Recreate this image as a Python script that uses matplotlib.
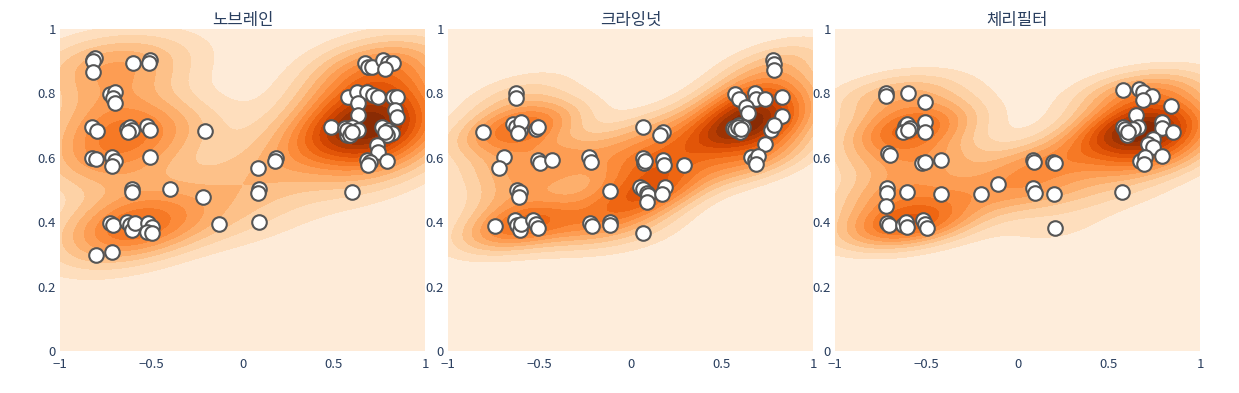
import numpy as np
import matplotlib
matplotlib.use('Agg')
import matplotlib.pyplot as plt

plt.rcParams['font.family'] = ['Noto Sans CJK KR', 'DejaVu Sans']

titles = ['노브레인', '크라잉넛', '체리필터']

# 노브레인 (stacked markers in the dense core are repeated)
x_nobrain = [-0.817, -0.81, -0.817, -0.82, -0.6, -0.507, -0.51,
             -0.726, -0.699, -0.708, -0.699,
             -0.826, -0.8, -0.635, -0.616, -0.607, -0.625, -0.525, -0.507, -0.205,
             -0.826, -0.803, -0.717, -0.699, -0.717, -0.507,
             -0.607, -0.603, -0.4, -0.218,
             -0.726, -0.708, -0.635, -0.616, -0.607, -0.589, -0.516, -0.498, -0.525, -0.498,
             -0.805, -0.713, -0.129,
             0.083, 0.09, 0.083, 0.092, 0.182, 0.178,
             0.671, 0.69, 0.708, 0.772, 0.799, 0.826, 0.781,
             0.58, 0.626, 0.68, 0.717, 0.744, 0.826, 0.845,
             0.635, 0.635, 0.836, 0.845,
             0.485, 0.562, 0.58, 0.598, 0.571, 0.635, 0.763, 0.799, 0.817, 0.79,
             0.575, 0.59, 0.6, 0.78,
             0.735, 0.744, 0.68, 0.699, 0.69, 0.794, 0.598]
y_nobrain = [0.904, 0.91, 0.9, 0.866, 0.893, 0.905, 0.893,
             0.798, 0.805, 0.785, 0.769,
             0.695, 0.684, 0.69, 0.697, 0.686, 0.681, 0.699, 0.686, 0.684,
             0.598, 0.595, 0.604, 0.591, 0.575, 0.601,
             0.502, 0.495, 0.502, 0.479,
             0.396, 0.391, 0.401, 0.391, 0.376, 0.396, 0.396, 0.386, 0.371, 0.366,
             0.298, 0.308, 0.394,
             0.567, 0.502, 0.492, 0.402, 0.598, 0.591,
             0.895, 0.883, 0.881, 0.904, 0.893, 0.893, 0.875,
             0.788, 0.805, 0.805, 0.795, 0.79, 0.79, 0.788,
             0.769, 0.733, 0.748, 0.728,
             0.697, 0.692, 0.681, 0.697, 0.671, 0.686, 0.697, 0.686, 0.676, 0.671,
             0.685, 0.672, 0.68, 0.68,
             0.64, 0.619, 0.593, 0.588, 0.578, 0.591, 0.493]

# 크라잉넛
x_crying = [-0.625, -0.625,
            -0.808, -0.644, -0.625, -0.607, -0.598, -0.616, -0.516, -0.507,
            -0.695, -0.72, -0.507, -0.498, -0.428, -0.228, -0.215,
            -0.622, -0.603, -0.61, -0.114,
            -0.74, -0.635, -0.622, -0.607, -0.598, -0.534, -0.516, -0.507,
            -0.22, -0.21, -0.114, -0.11,
            0.068, 0.178, 0.163, 0.068, 0.072, 0.078, 0.178, 0.182, 0.291,
            0.05, 0.068, 0.09, 0.096, 0.09, 0.189, 0.17, 0.068,
            0.78, 0.784, 0.789,
            0.571, 0.594, 0.68, 0.69, 0.735, 0.83, 0.635, 0.643, 0.83,
            0.562, 0.58, 0.594, 0.598, 0.616, 0.772, 0.788, 0.735,
            0.575, 0.59, 0.605,
            0.662, 0.68, 0.699, 0.69]
y_crying = [0.802, 0.785,
            0.679, 0.705, 0.697, 0.686, 0.712, 0.678, 0.69, 0.697,
            0.604, 0.567, 0.593, 0.585, 0.593, 0.604, 0.588,
            0.5, 0.495, 0.479, 0.497,
            0.388, 0.407, 0.391, 0.376, 0.394, 0.407, 0.394, 0.381,
            0.396, 0.388, 0.402, 0.391,
            0.695, 0.681, 0.671, 0.598, 0.583, 0.591, 0.593, 0.578, 0.578,
            0.51, 0.502, 0.49, 0.484, 0.464, 0.51, 0.487, 0.365,
            0.904, 0.891, 0.873,
            0.798, 0.782, 0.8, 0.782, 0.782, 0.79, 0.757, 0.74, 0.731,
            0.692, 0.686, 0.702, 0.681, 0.697, 0.686, 0.702, 0.643,
            0.69, 0.695, 0.688,
            0.604, 0.593, 0.606, 0.581]

# 체리필터
x_cherry = [-0.72, -0.72, -0.598, -0.507,
            -0.507, -0.507, -0.616, -0.607, -0.589, -0.625, -0.598,
            -0.708, -0.699, -0.525, -0.507, -0.42,
            -0.717, -0.717, -0.603, -0.42, -0.72, -0.202, -0.105,
            -0.717, -0.702, -0.626, -0.611, -0.603, -0.516, -0.507, -0.498,
            0.087, 0.09, 0.192, 0.205, 0.087, 0.096, 0.2, 0.205,
            0.58, 0.667, 0.689, 0.735, 0.689, 0.84, 0.649,
            0.58, 0.589, 0.598, 0.662, 0.635, 0.79, 0.794, 0.854, 0.744,
            0.59, 0.605,
            0.717, 0.744, 0.671, 0.699, 0.694, 0.794, 0.571]
y_cherry = [0.8, 0.792, 0.802, 0.773,
            0.712, 0.679, 0.699, 0.705, 0.692, 0.681, 0.686,
            0.614, 0.609, 0.585, 0.588, 0.593,
            0.505, 0.492, 0.495, 0.488, 0.45, 0.488, 0.519,
            0.396, 0.391, 0.391, 0.401, 0.384, 0.407, 0.394, 0.381,
            0.593, 0.588, 0.588, 0.583, 0.505, 0.49, 0.488, 0.383,
            0.81, 0.813, 0.805, 0.792, 0.78, 0.762, 0.733,
            0.697, 0.686, 0.671, 0.697, 0.689, 0.712, 0.692, 0.681, 0.657,
            0.69, 0.68,
            0.643, 0.635, 0.591, 0.601, 0.581, 0.606, 0.493]

panels = [(x_nobrain, y_nobrain), (x_crying, y_crying), (x_cherry, y_cherry)]


def kde(xs, ys, gx, gy, factor=0.4):
    pts = np.vstack([xs, ys])
    cov = np.cov(pts) * factor ** 2
    inv = np.linalg.inv(cov)
    dx = gx.ravel()[:, None] - pts[0][None, :]
    dy = gy.ravel()[:, None] - pts[1][None, :]
    q = inv[0, 0] * dx * dx + 2 * inv[0, 1] * dx * dy + inv[1, 1] * dy * dy
    z = np.exp(-0.5 * q).sum(axis=1)
    return z.reshape(gx.shape)


fig = plt.figure(figsize=(12.39, 3.93), dpi=100)
lefts = [60, 448, 835]
tick_col = '#2a3f5f'
gx, gy = np.meshgrid(np.linspace(-1, 1, 200), np.linspace(0, 1, 120))

for i, (xs, ys) in enumerate(panels):
    ax = fig.add_axes([lefts[i] / 1239, 1 - 351 / 393, 365 / 1239, 322 / 393])
    z = kde(np.array(xs), np.array(ys), gx, gy)
    levels = np.linspace(0, z.max(), 15)
    levels[0] = -1
    ax.contourf(gx, gy, z, levels=levels, cmap='Oranges', vmin=-0.08 * z.max(), vmax=z.max())
    ax.scatter(xs, ys, s=110, facecolor='white', edgecolor='#555555', linewidth=1.5, zorder=3)
    ax.set_xlim(-1, 1)
    ax.set_ylim(0, 1)
    ax.set_xticks([-1, -0.5, 0, 0.5, 1])
    ax.set_xticklabels(['\u22121', '\u22120.5', '0', '0.5', '1'])
    ax.set_yticks([0, 0.2, 0.4, 0.6, 0.8, 1])
    ax.set_yticklabels(['0', '0.2', '0.4', '0.6', '0.8', '1'])
    ax.tick_params(length=0, labelsize=9.5, colors=tick_col)
    ax.tick_params(axis='x', pad=5)
    ax.tick_params(axis='y', pad=3)
    for s in ax.spines.values():
        s.set_visible(False)
    ax.set_title(titles[i], fontsize=12, color=tick_col, pad=3)

fig.savefig('out.png', dpi=100)
